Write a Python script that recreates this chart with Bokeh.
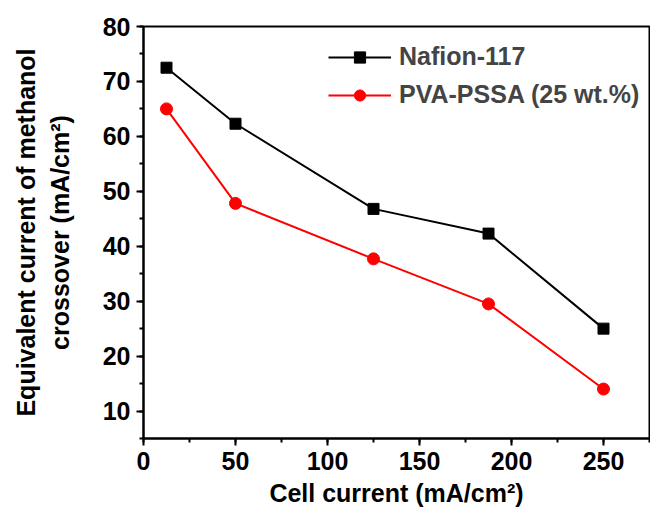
from bokeh.plotting import figure
from bokeh.models import Range1d, SingleIntervalTicker, Title, Legend, LegendItem
from bokeh.embed import file_html
from bokeh.resources import INLINE

# Cell current (mA/cm2) at which crossover was measured
cell_current = [12.5, 50, 125, 187.5, 250]
# Equivalent methanol crossover current (mA/cm2)
nafion_117 = [72.5, 62.3, 46.8, 42.3, 25.0]
pva_pssa_25 = [65.0, 47.8, 37.7, 29.5, 14.0]

series_names = ["Nafion-117", "PVA-PSSA (25 wt.%)"]
x_label = "Cell current (mA/cm²)"
y_label_lines = ["Equivalent current of methanol", "crossover (mA/cm²)"]

FONT = "Liberation Sans"

p = figure(width=650, height=517, output_backend="svg", toolbar_location=None,
           x_range=Range1d(0, 275), y_range=Range1d(5, 80),
           min_border_left=143, min_border_right=1, min_border_top=26,
           min_border_bottom=79)
p.background_fill_color = "white"
p.border_fill_color = "white"
p.grid.visible = False
p.outline_line_color = "black"
p.outline_line_width = 2

# black series: line + squares
l1 = p.line(cell_current, nafion_117, line_color="black", line_width=2)
m1 = p.scatter(cell_current, nafion_117, marker="square", size=11,
               fill_color="black", line_color="black")
# red series: line + circles
l2 = p.line(cell_current, pva_pssa_25, line_color="#ff0000", line_width=2)
m2 = p.scatter(cell_current, pva_pssa_25, marker="circle", size=12,
               fill_color="#ff0000", line_color="#ff0000")

# axes
xa = p.xaxis[0]
xa.ticker = SingleIntervalTicker(interval=50, num_minor_ticks=2)
ya = p.yaxis[0]
ya.ticker = SingleIntervalTicker(interval=10, num_minor_ticks=2)
for ax in (xa, ya):
    ax.axis_line_width = 2
    ax.axis_line_color = "black"
    ax.major_tick_line_width = 2
    ax.minor_tick_line_width = 2
    ax.major_tick_out = 7
    ax.major_tick_in = 0
    ax.minor_tick_out = 4
    ax.minor_tick_in = 0
    ax.major_label_text_font = FONT
    ax.major_label_text_font_style = "bold"
    ax.major_label_text_font_size = "25px"
    ax.major_label_text_color = "black"
    ax.axis_label_text_font = FONT
    ax.axis_label_text_font_style = "bold"
    ax.axis_label_text_font_size = "25px"
    ax.axis_label_text_color = "black"

xa.major_label_standoff = 6
xa.axis_label = x_label
xa.axis_label_standoff = 6

ya.major_label_standoff = 6
ya.axis_label = y_label_lines[1]
ya.axis_label_standoff = 26

outer = Title(text=y_label_lines[0], align="center", text_font=FONT,
              text_font_style="bold", text_font_size="25px",
              text_color="black", standoff=6)
p.add_layout(outer, "left")

legend = Legend(items=[LegendItem(label=series_names[0], renderers=[l1, m1]),
                       LegendItem(label=series_names[1], renderers=[l2, m2])],
                location=(185, 329))
legend.border_line_color = None
legend.background_fill_alpha = 0
legend.padding = 0
legend.margin = 0
legend.glyph_width = 63
legend.glyph_height = 28
legend.label_height = 28
legend.spacing = 9
legend.label_standoff = 8
legend.label_text_font = FONT
legend.label_text_font_style = "bold"
legend.label_text_font_size = "25px"
p.add_layout(legend)

open("out.html", "w").write(file_html(p, INLINE))
